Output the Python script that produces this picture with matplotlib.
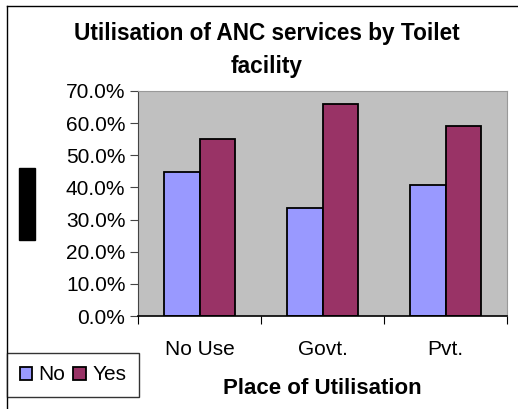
import matplotlib.pyplot as plt
import numpy as np
from matplotlib.patches import Rectangle
from matplotlib.lines import Line2D

categories = ['No Use', 'Govt.', 'Pvt.']
no_vals = [44.7, 33.7, 40.9]
yes_vals = [55.1, 66.1, 59.0]
yticks = [0, 10, 20, 30, 40, 50, 60, 70]

plt.rcParams['font.family'] = ['Liberation Sans', 'DejaVu Sans']

W, H = 518, 409
fig = plt.figure(figsize=(W / 100, H / 100), dpi=100)
ax = fig.add_axes([138 / W, 1 - 316 / H, (507 - 138) / W, (316 - 91) / H])
ax.set_facecolor('#C0C0C0')

x = np.arange(len(categories))
w = 0.29
ax.bar(x - w / 2, no_vals, w, color='#9999FF', edgecolor='black', linewidth=1.3, label='No')
ax.bar(x + w / 2, yes_vals, w, color='#993366', edgecolor='black', linewidth=1.3, label='Yes')

ax.set_xlim(-0.5, 2.5)
ax.set_ylim(0, 70)
ax.set_yticks(yticks)
ax.set_yticklabels(['%.1f%%' % v for v in yticks], fontsize=15)
ax.set_xticks([-0.5, 0.5, 1.5, 2.5])
ax.set_xticklabels([])
ax.set_xticks(x, minor=True)
ax.set_xticklabels(categories, minor=True, fontsize=15)
ax.tick_params(axis='x', which='minor', length=0, pad=17)
ax.tick_params(axis='x', which='major', length=6, color='black', direction='out')
ax.tick_params(axis='y', length=6, color='#444444', pad=3)

for s in ['top', 'right']:
    ax.spines[s].set_color('#999999')
ax.spines['left'].set_color('#444444')
ax.spines['bottom'].set_color('black')
ax.spines['bottom'].set_linewidth(1.2)

fig.text(322 / W, 1 - 388 / H, 'Place of Utilisation', ha='center', va='center',
         fontsize=16, fontweight='bold')

fig.text(267 / W, 1 - 50 / H, 'Utilisation of ANC services by Toilet\nfacility',
         ha='center', va='center', fontsize=16.3, fontweight='bold', linespacing=1.6)

# outer chart frame
fig.add_artist(Line2D([7 / W, 7 / W], [0, 1 - 6 / H], color='black', lw=1))
fig.add_artist(Line2D([7 / W, 1], [1 - 6 / H, 1 - 6 / H], color='black', lw=1))

# black box where the y label was
fig.add_artist(Rectangle((19 / W, 1 - 240 / H), 16 / W, 72 / H, color='black'))

leg = fig.legend(loc='lower left', bbox_to_anchor=(7 / W, 1 - 397 / H), ncol=2,
                 fontsize=15, frameon=True, fancybox=False, edgecolor='black',
                 handlelength=0.6, handleheight=0.6, handletextpad=0.3,
                 columnspacing=0.4, borderpad=0.6, borderaxespad=0)
leg.get_frame().set_linewidth(1)

fig.savefig('out.png', dpi=100)
